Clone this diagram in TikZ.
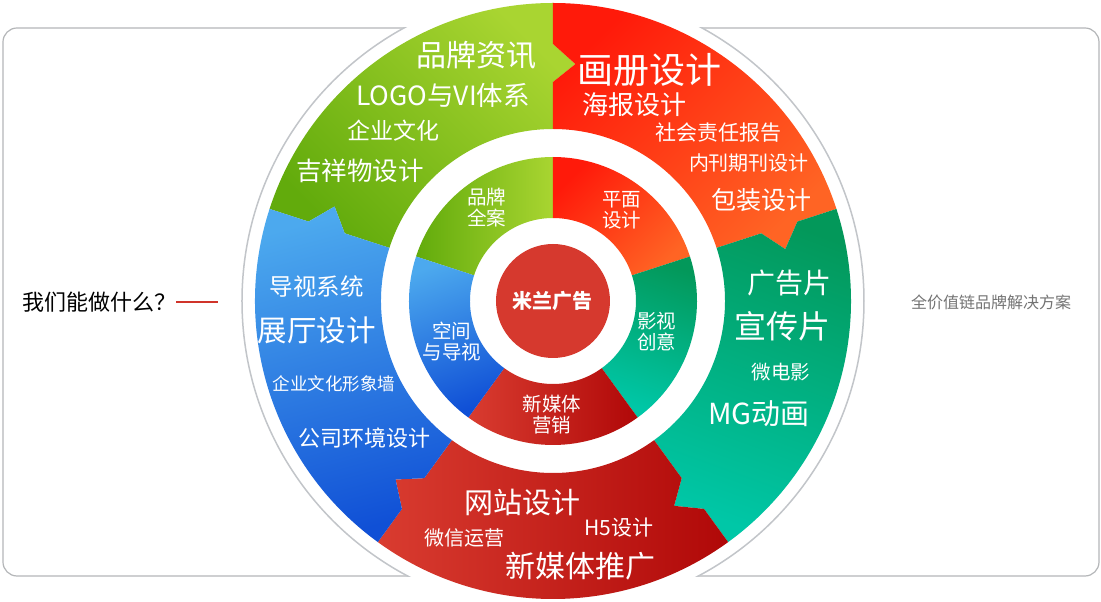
\documentclass[tikz,border=0pt]{standalone}
\usepackage{fontspec}
\newfontfamily\cjk{Noto Sans CJK SC}
\definecolor{frameg}{HTML}{B4B6B8}
\definecolor{ringg}{HTML}{C2C5C9}
\definecolor{grnA}{HTML}{62AB0C}
\definecolor{grnB}{HTML}{A9D531}
\definecolor{redA}{HTML}{FF1A0A}
\definecolor{redB}{HTML}{FF6424}
\definecolor{tealA}{HTML}{03985A}
\definecolor{tealB}{HTML}{00C7A7}
\definecolor{crimA}{HTML}{D93C30}
\definecolor{crimB}{HTML}{B00808}
\definecolor{bluA}{HTML}{4CA9EE}
\definecolor{bluB}{HTML}{1050D6}
\definecolor{core}{HTML}{D6392E}
\definecolor{linered}{HTML}{D0342A}

\begin{document}
\begin{tikzpicture}[
	x=1pt, y=1pt,
	every node/.style={inner sep=0pt, text=white, font=\cjk},
	txt/.style={font=\cjk\fontsize{#1}{#1}\selectfont},
	mid/.style={align=center, font=\cjk\fontsize{19.5}{21}\selectfont}
	]
	\useasboundingbox (-553,-301) rectangle (548,301);
	% Frame
	\draw[frameg, line width=1.2pt, rounded corners=14pt] (-550,-275) rectangle (546,273);
	\fill[white] (0,0) circle[radius=311];
	\begin{scope}
		\clip (-550,-275) rectangle (546,273);
		\draw[ringg, line width=1.5pt] (0,0) circle[radius=311];
	\end{scope}
	
	% Outer ring
	\foreach \a/\ct/\cb/\sa in {162/grnB/grnA/-45, 90/redA/redB/45, 18/tealA/tealB/-20, -54/crimA/crimB/90, -126/bluA/bluB/15}
	{
		\pgfmathsetmacro\b{\a-72}
		\shade[top color=\ct, bottom color=\cb, shading angle=\sa]
		(\a:298) arc[start angle=\a, end angle=\b, radius=298] -- (\b:257) -- ({\b-5.4}:238) -- (\b:219) -- (\b:172)
		arc[start angle=\b, end angle=\a, radius=172] -- (\a:219) -- ({\a-5.4}:238) -- (\a:257) -- cycle;
	}
	
	% Middle ring
	\foreach \a/\ct/\cb/\sa in {162/grnB/grnA/-90, 90/redA/redB/45, 18/tealA/tealB/-20, -54/crimA/crimB/90, -126/bluA/bluB/20}
	{
		\pgfmathsetmacro\b{\a-72}
		\shade[top color=\ct, bottom color=\cb, shading angle=\sa]
		(\a:144) arc[start angle=\a, end angle=\b, radius=144] -- (\b:83)
		arc[start angle=\b, end angle=\a, radius=83] -- cycle;
	}
	
	% Nodes
	\node[circle, fill=core, minimum size=114pt, txt=20] (hub) at (0,0) {\bfseries 米兰广告};
	\node[mid] (brand) at (-66,93) {品牌\\全案};
	\node[mid] (print) at (69,91) {平面\\设计};
	\node[mid] (video) at (104,-31) {影视\\创意};
	\node[mid] (media) at (-1,-114) {新媒体\\营销};
	\node[mid] (space) at (-101,-41) {空间\\与导视};
	
	\node[txt=30] (news) at (-76,246) {品牌资讯};
	\node[txt=26.5] (logo) at (-110,206) {LOGO与VI体系};
	\node[txt=23] (culture) at (-159,170) {企业文化};
	\node[txt=25.5] (mascot) at (-193,130) {吉祥物设计};
	
	\node[txt=36] (album) at (97,231) {画册设计};
	\node[txt=26] (poster) at (82,196) {海报设计};
	\node[txt=21] (report) at (166,168) {社会责任报告};
	\node[txt=20] (journal) at (196,138) {内刊期刊设计};
	\node[txt=25] (pack) at (209,101) {包装设计};
	
	\node[txt=28] (ad) at (236,18) {广告片};
	\node[txt=32] (promo) at (230,-25) {宣传片};
	\node[txt=19.5] (film) at (228,-71) {微电影};
	\node[txt=29] (mg) at (206,-113) {MG动画};
	
	\node[txt=29] (web) at (-30,-202) {网站设计};
	\node[txt=20] (wechat) at (-88,-237) {微信运营};
	\node[txt=21] (hfive) at (66,-227) {H5设计};
	\node[txt=30] (newmedia) at (28,-265) {新媒体推广};
	
	\node[txt=23.5] (guide) at (-236,14) {导视系统};
	\node[txt=29.5] (hall) at (-236,-29) {展厅设计};
	\node[txt=17.5] (wall) at (-219,-83) {企业文化形象墙};
	\node[txt=22] (office) at (-188,-137) {公司环境设计};
	
	% Side texts
	\node[txt=22, text=black, anchor=west] (ask) at (-531,-1) {我们能做什么？};
	\coordinate (askend) at (-335,-1);
	\node[txt=16, text=black!55] (answer) at (438,-1) {全价值链品牌解决方案};
	\draw[linered, line width=1.5pt] (ask.east) -- (askend);
\end{tikzpicture}
\end{document}
